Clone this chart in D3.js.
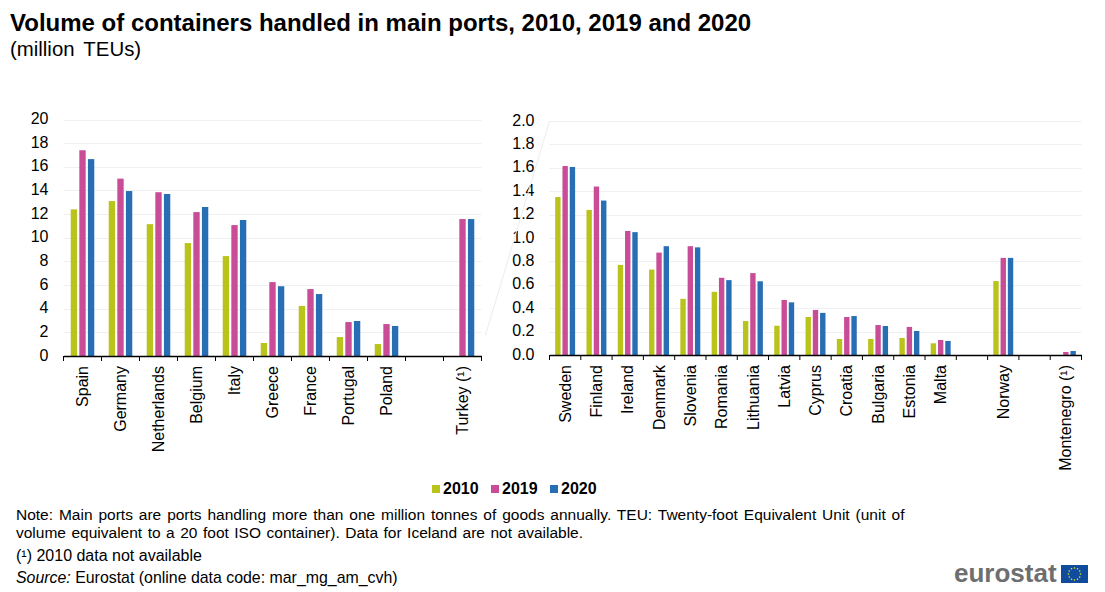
<!doctype html>
<html>
<head>
<meta charset="utf-8">
<script src="https://d3js.org/d3.v7.min.js"></script>
<style>
  html, body { margin: 0; padding: 0; background: #fff; overflow: hidden; }
  text { font-family: "Liberation Sans", Arial, sans-serif; fill: #000; }
  .domain { stroke: #000; stroke-width: 1.4px; }
</style>
</head>
<body>
<svg id="chart" width="1105" height="592"></svg>
<script>
// data (million TEUs)
var years = ["2010", "2019", "2020"];
var colours = ["#b9c31b", "#c84d96", "#286eb4"];

var leftNames = ["Spain", "Germany", "Netherlands", "Belgium", "Italy", "Greece", "France", "Portugal", "Poland", "", "Turkey (¹)"];
var left2010 = [12.4, 13.1, 11.15, 9.55, 8.45, 1.1, 4.23, 1.6, 1.01, null, null];
var left2019 = [17.4, 15.0, 13.85, 12.17, 11.07, 6.25, 5.66, 2.87, 2.7, null, 11.58];
var left2020 = [16.65, 13.95, 13.7, 12.6, 11.5, 5.9, 5.24, 2.96, 2.54, null, 11.58];
var leftTicks = [0, 2, 4, 6, 8, 10, 12, 14, 16, 18, 20];

var rightNames = ["Sweden", "Finland", "Ireland", "Denmark", "Slovenia", "Romania", "Lithuania", "Latvia", "Cyprus", "Croatia", "Bulgaria", "Estonia", "Malta", "", "Norway", " ", "Montenegro (¹)"];
var right2010 = [1.35, 1.24, 0.77, 0.73, 0.48, 0.54, 0.29, 0.25, 0.325, 0.137, 0.137, 0.145, 0.10, null, 0.632, null, null];
var right2019 = [1.615, 1.44, 1.06, 0.875, 0.93, 0.66, 0.70, 0.47, 0.385, 0.325, 0.256, 0.24, 0.128, null, 0.83, null, 0.026];
var right2020 = [1.607, 1.32, 1.05, 0.93, 0.92, 0.64, 0.63, 0.45, 0.36, 0.333, 0.248, 0.205, 0.12, null, 0.83, null, 0.034];
var rightTicks = [0, 0.2, 0.4, 0.6, 0.8, 1.0, 1.2, 1.4, 1.6, 1.8, 2.0];

var svg = d3.select("#chart");

// one bar panel
function panel(o) {
  var x = d3.scaleBand().domain(o.names).range(o.xr);
  var y = d3.scaleLinear().domain([0, o.max]).range(o.yr);
  var x1 = d3.scaleBand().domain(years).range([0, x.bandwidth()])
    .paddingInner(o.inner).paddingOuter(o.outer);
  var g = svg.append("g");

  // grid lines
  g.append("g").selectAll("line").data(o.ticks.slice(1)).join("line")
    .attr("x1", o.xr[0]).attr("x2", o.xr[1])
    .attr("y1", function(d) { return Math.round(y(d)) + 0.5; })
    .attr("y2", function(d) { return Math.round(y(d)) + 0.5; })
    .attr("stroke", "#f0f0f0").attr("stroke-width", 1);

  // bars
  o.series.forEach(function(vals, i) {
    g.append("g").selectAll("rect")
      .data(vals.map(function(v, j) { return {v: v, name: o.names[j]}; }).filter(function(d) { return d.v !== null; }))
      .join("rect")
      .attr("x", function(d) { return x(d.name) + x1(years[i]); })
      .attr("width", x1.bandwidth())
      .attr("y", function(d) { return y(d.v); })
      .attr("height", function(d) { return y(0) - y(d.v); })
      .attr("fill", colours[i]);
  });

  // y axis, labels only
  var ya = g.append("g").attr("transform", "translate(" + (o.xr[0] - 9) + ",-1)")
    .call(d3.axisLeft(y).tickValues(o.ticks).tickSize(0).tickFormat(o.fmt));
  ya.select(".domain").remove();
  ya.selectAll("text").style("font-size", "16px").attr("x", -6);

  // x axis, names rotated
  var xa = g.append("g").attr("transform", "translate(0," + y(0) + ")")
    .call(d3.axisBottom(x).tickSize(0).tickSizeOuter(0));
  xa.selectAll("text")
    .style("font-size", "16px")
    .attr("transform", "rotate(-90)")
    .attr("text-anchor", "end")
    .attr("x", -10)
    .attr("y", 0)
    .attr("dy", "0.35em");

  // tick marks sit between the categories
  xa.append("g").selectAll("line").data(d3.range(o.names.length + 1)).join("line")
    .attr("x1", function(d) { return o.xr[0] + d * x.step(); })
    .attr("x2", function(d) { return o.xr[0] + d * x.step(); })
    .attr("y1", 0).attr("y2", 5)
    .attr("stroke", "#000").attr("stroke-width", 1);

  return {x: x, y: y};
}

var pl = panel({
  names: leftNames, series: [left2010, left2019, left2020], ticks: leftTicks,
  max: 20, xr: [63.5, 481.5], yr: [356, 119.5], inner: 0.26, outer: 0.84,
  fmt: d3.format("d")
});
var pr = panel({
  names: rightNames, series: [right2010, right2019, right2020], ticks: rightTicks,
  max: 2, xr: [549.5, 1081.5], yr: [355, 121], inner: 0.26, outer: 0.78,
  fmt: d3.format(".1f")
});

// faint connector between the two panels
svg.append("line")
  .attr("x1", pl.x.range()[1] + 4).attr("y1", pl.y(1.77))
  .attr("x2", pr.x.range()[0]).attr("y2", pr.y(2))
  .attr("stroke", "#ececec").attr("stroke-width", 1);

// title
svg.append("text").attr("x", 10).attr("y", 31).text("Volume of containers handled in main ports, 2010, 2019 and 2020")
  .style("font-size", "24px").style("font-weight", "bold");
svg.append("text").attr("x", 10).attr("y", 56).text("(million TEUs)")
  .style("font-size", "20.4px").style("word-spacing", "3.5px");

// legend
var legendX = d3.scalePoint().domain(years).range([432, 550]);
var leg = svg.append("g").selectAll("g").data(years).join("g")
  .attr("transform", function(d) { return "translate(" + legendX(d) + ",0)"; });
leg.append("rect").attr("y", 485).attr("width", 8).attr("height", 8)
  .attr("fill", function(d, i) { return colours[i]; });
leg.append("text").attr("x", 11).attr("y", 494).text(function(d) { return d; })
  .style("font-size", "16px").style("font-weight", "bold");

// footnotes
var notes = svg.append("g").style("font-size", "15.5px");
notes.append("text").attr("x", 16).attr("y", 520).style("word-spacing", "1.6px")
  .text("Note: Main ports are ports handling more than one million tonnes of goods annually.  TEU: Twenty-foot  Equivalent Unit (unit of");
notes.append("text").attr("x", 16).attr("y", 538).style("word-spacing", "1.2px")
  .text("volume equivalent to a 20 foot ISO container).  Data for Iceland are not available.");
notes.append("text").attr("x", 16).attr("y", 561).style("font-size", "16px").text("(¹) 2010 data not available");
var src = notes.append("text").attr("x", 16).attr("y", 583).style("font-size", "15.9px");
src.append("tspan").style("font-style", "italic").text("Source:");
src.append("tspan").text(" Eurostat (online data code: mar_mg_am_cvh)");

// eurostat mark
svg.append("text").attr("x", 954).attr("y", 582).text("eurostat")
  .style("font-size", "26px").style("font-weight", "bold").style("fill", "#6e6e6e");
svg.append("rect").attr("x", 1061).attr("y", 565).attr("width", 27).attr("height", 18).attr("fill", "#0f4c9e");
svg.append("g").selectAll("circle").data(d3.range(12)).join("circle")
  .attr("cx", function(d) { return 1074.5 + 6 * Math.cos(d * Math.PI / 6); })
  .attr("cy", function(d) { return 574 + 6 * Math.sin(d * Math.PI / 6); })
  .attr("r", 0.8).attr("fill", "#f2e51c");
</script>
</body>
</html>
